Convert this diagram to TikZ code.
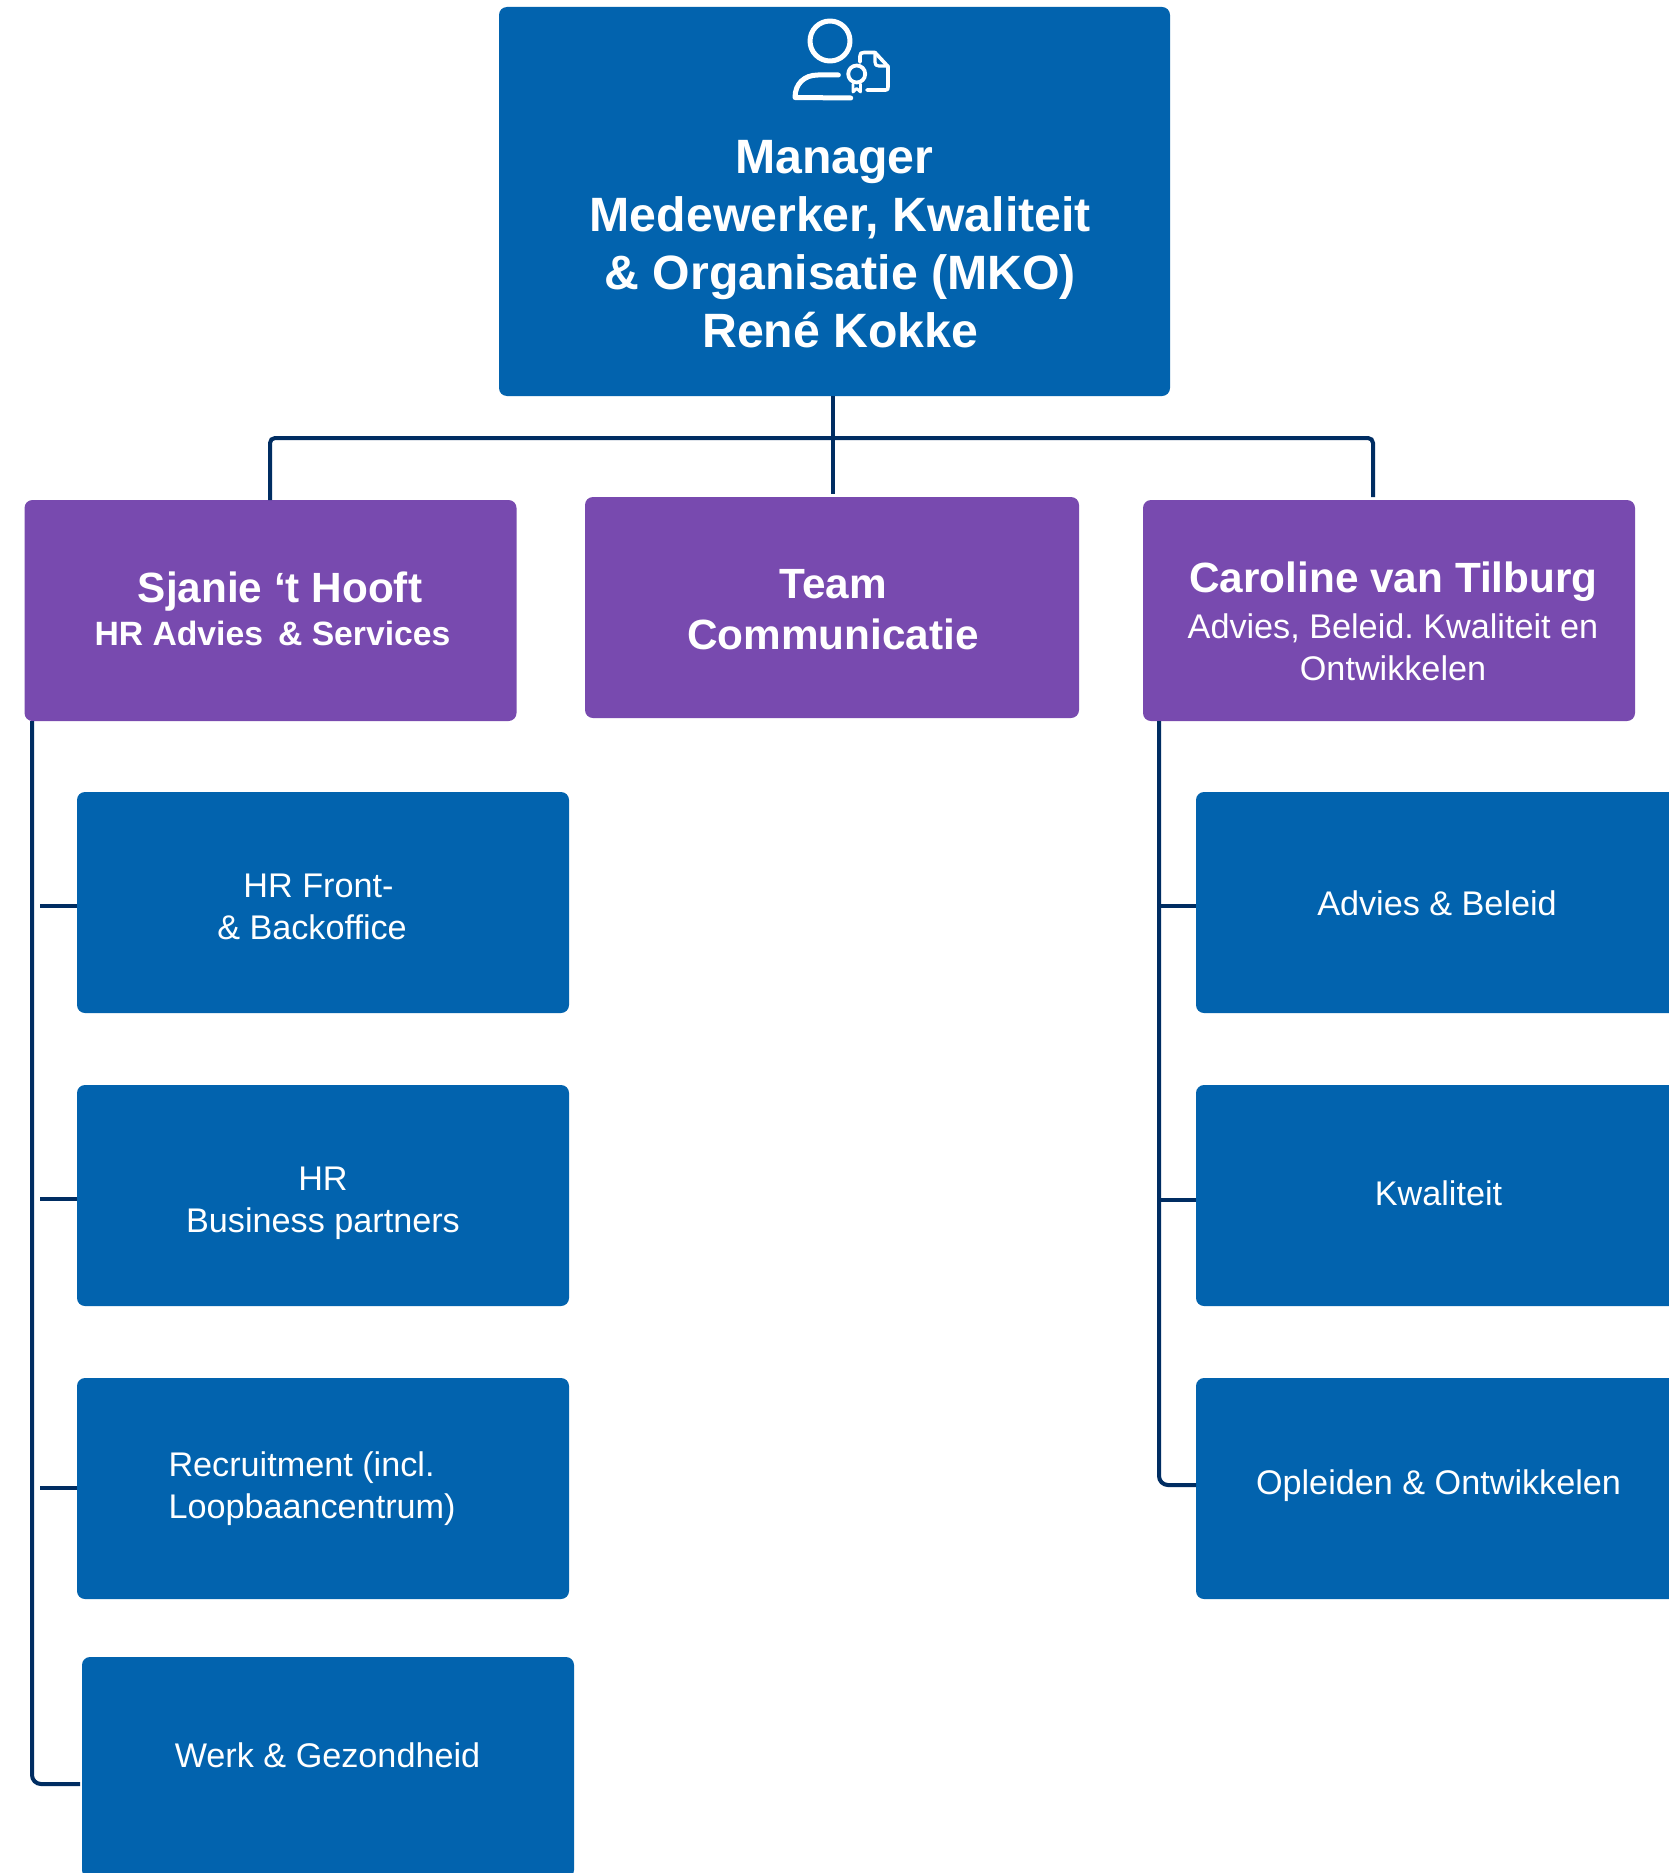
\documentclass[tikz,border=0pt]{standalone}
\usepackage{fontspec}
\setmainfont{Liberation Sans}
\frenchspacing
\definecolor{bluebox}{RGB}{2,99,174}
\definecolor{purplebox}{RGB}{120,74,175}
\definecolor{linecol}{RGB}{0,45,98}
\tikzset{
  bx/.style={draw=none,rounded corners=8pt,minimum width=#1,inner sep=0pt,outer sep=0pt},
  blueb/.style={bx=492pt,fill=bluebox,minimum height=221pt},
  purpleb/.style={bx=492pt,fill=purplebox,minimum height=221pt},
  conn/.style={draw=linecol,line width=4pt},
  txt/.style={text=white,inner sep=0pt,outer sep=0pt,align=center},
  t48/.style={txt,font=\fontsize{48.2}{58}\selectfont\bfseries},
  t42/.style={txt,font=\fontsize{42.3}{50}\selectfont\bfseries},
  t34b/.style={txt,font=\fontsize{33.7}{40}\selectfont\bfseries},
  t34/.style={txt,font=\fontsize{34.2}{42}\selectfont},
  icon/.style={draw=white,line width=5pt,line cap=round,line join=round},
}
\begin{document}
\begin{tikzpicture}[x=1pt,y=-1pt]
\useasboundingbox (0,0) rectangle (1669,1873);
\clip (0,0) rectangle (1669,1873);
\fill[white] (0,0) rectangle (1669,1873);
% boxes
\node[bx=671pt,fill=bluebox,minimum height=389pt] (top) at (834.5,201.5) {};
\node[purpleb] (sjanie) at (270.5,610.5) {};
\node[purpleb,minimum width=494pt] (team) at (832,607.5) {};
\node[purpleb] (caroline) at (1389,610.5) {};
\node[blueb] (front) at (323,902.5) {};
\node[blueb] (bp) at (323,1195.5) {};
\node[blueb] (recr) at (323,1488.5) {};
\node[blueb] (werk) at (328,1767.5) {};
\node[blueb] (advies) at (1442,902.5) {};
\node[blueb] (kwal) at (1442,1195.5) {};
\node[blueb] (opl) at (1442,1488.5) {};
% connectors
\coordinate (busY) at (833,438);
\coordinate (teamTop) at (833,494);
\coordinate (rightDrop) at (1373,497);
\coordinate (leftDrop) at (270,500);
\coordinate (trunkL) at (32,721);
\coordinate (trunkR) at (1159,721);
\coordinate (stubA) at (40,906);
\coordinate (stubB) at (40,1199);
\coordinate (stubC) at (40,1488);
\coordinate (stubD) at (1159,906);
\coordinate (stubE) at (1159,1200);
\coordinate (endL) at (80,1784);
\coordinate (endR) at (1196,1485);
\draw[conn] (top.south -| teamTop) -- (teamTop);
\draw[conn,rounded corners=5pt] (leftDrop) |- (busY) -| (rightDrop);
\draw[conn,rounded corners=9pt] (trunkL) |- (endL);
\draw[conn,rounded corners=9pt] (trunkR) |- (endR);
\draw[conn] (stubA) -- (stubA -| front.west);
\draw[conn] (stubB) -- (stubB -| bp.west);
\draw[conn] (stubC) -- (stubC -| recr.west);
\draw[conn] (stubD) -- (stubD -| advies.west);
\draw[conn] (stubE) -- (stubE -| kwal.west);
% icon
\draw[icon] (830,41) circle (20);
\draw[icon] (838.3,75) -- (818,75) .. controls (804,75) and (795,84) .. (795,97.5) -- (850.7,98);
\draw[icon,line width=3.6pt] (860,62) -- (860,56) .. controls (860,53.5) and (861,52.5) .. (864,52.5) -- (875,52.5) -- (888,66.5) -- (888,87) .. controls (888,89.5) and (887.5,90) .. (885.5,90) -- (867,90);
\draw[icon,line width=3.2pt] (875,53) -- (875,62) .. controls (875,65) and (876,66) .. (879,66) -- (888,66);
\draw[icon,line width=3.8pt] (856.7,74) circle (8.5);
\draw[icon,line width=2.8pt] (853,84) -- (853,92) -- (856.7,88.5) -- (860.5,92) -- (860.5,84);
% texts
\node[t48] (tTop) at (840.3,244) {Manager\hspace*{12pt}\\Medewerker, Kwaliteit\\\& Organisatie (MKO)\\René Kokke};
\node[t42] (tSj) at (280,592) {Sjanie ‘t Hooft};
\node[t34b] (tSj2) at (272.5,633) {HR Advies \,\& Services};
\node[t42,font=\fontsize{42.3}{51}\selectfont\bfseries] (tTeam) at (833,610) {Team\\Communicatie};
\node[t42] (tCar) at (1393.5,582) {Caroline van Tilburg};
\node[t34] (tCar2) at (1393,647.5) {Advies, Beleid. Kwaliteit en\\Ontwikkelen};
\node[t34] (tFront) at (312,907) {HR Front-\hspace*{-13pt}\\\& Backoffice};
\node[t34] (tBp) at (323,1203) {HR\\Business partners};
\node[t34,align=left,anchor=west] (tRecr) at (168.5,1489) {Recruitment (incl.\\Loopbaancentrum)};
\node[t34] (tWerk) at (327.5,1755) {Werk \& Gezondheid};
\node[t34] (tAdv) at (1437,903) {Advies \& Beleid};
\node[t34] (tKwal) at (1438.5,1193.5) {Kwaliteit};
\node[t34] (tOpl) at (1438.5,1486) {Opleiden \& Ontwikkelen};
\end{tikzpicture}
\end{document}
